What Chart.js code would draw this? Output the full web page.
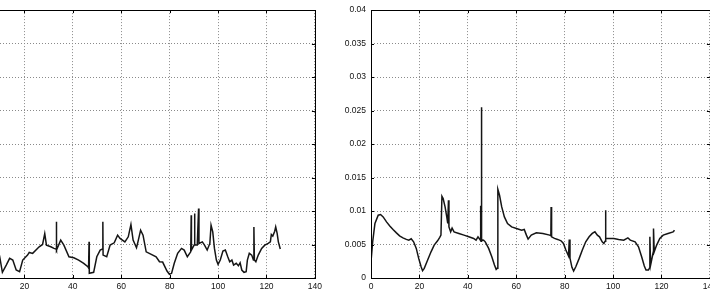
<!DOCTYPE html>
<html>
<head>
<meta charset="utf-8">
<script src="https://cdn.jsdelivr.net/npm/chart.js@4.4.1/dist/chart.umd.min.js"></script>
<style>
  html, body { margin: 0; padding: 0; background: #fff; overflow: hidden; }
  body { width: 710px; height: 295px; position: relative; }
  canvas { position: absolute; top: 0; }
  #left { left: -74px; }
  #right { left: 321px; }
</style>
</head>
<body>
<canvas id="left" width="400" height="295"></canvas>
<canvas id="right" width="400" height="295"></canvas>
<script>
// tick values shared by both panels
var xTicks = [0, 20, 40, 60, 80, 100, 120, 140];
var yTicks = [0, 0.005, 0.01, 0.015, 0.02, 0.025, 0.03, 0.035, 0.04];

// left panel (its y labels are cut off in the picture)
var leftX = [9.4, 9.8, 10.9, 12.5, 13.9, 15.2, 16.6, 18.0, 19.3, 21.3, 22.0, 23.4, 26.1, 27.5, 28.4, 29.1,
    30.9, 32.2, 33.1, 33.2, 33.3, 35.0, 36.3, 38.4, 40.4, 42.4, 44.5, 46.2, 46.5, 46.7, 46.8, 48.6,
    49.9, 51.3, 52.2, 52.4, 52.5, 54.0, 55.4, 57.1, 58.5, 59.5, 61.5, 62.9, 64.0, 64.9, 66.3, 66.9,
    68.0, 69.0, 70.3, 72.4, 74.4, 75.8, 77.1, 78.9, 79.9, 80.8, 81.9, 83.3, 84.9, 86.0, 87.3, 88.7,
    88.9, 89.0, 90.1, 90.3, 90.4, 91.4, 91.95, 92.1, 93.5, 94.4, 95.5, 96.6, 97.1, 97.8, 98.5, 99.3,
    100.0, 100.9, 102.0, 103.0, 104.0, 104.8, 105.7, 106.4, 107.5, 108.4, 109.1, 109.8, 110.7, 111.6,
    112.1, 112.9, 113.9, 114.6, 114.8, 115.0, 115.6, 116.6, 118.0, 119.3, 120.7, 121.6, 122.0, 122.6,
    123.4, 123.8, 124.4, 124.9, 125.7];
var leftY = [0.00387, 0.00317, 0.00085, 0.00193, 0.00293, 0.00268, 0.00119, 0.00094, 0.00268, 0.00342, 0.00382, 0.00368, 0.00466, 0.00501, 0.00662, 0.00491,
    0.00466, 0.00442, 0.00432, 0.00838, 0.00417, 0.00565, 0.00491, 0.00317, 0.00302, 0.00268, 0.00219, 0.00168, 0.00149, 0.0054, 0.0007, 0.00085,
    0.00317, 0.00417, 0.00432, 0.00838, 0.00342, 0.00317, 0.00491, 0.00525, 0.0064, 0.00591, 0.0054, 0.00615, 0.00799, 0.00565, 0.00451, 0.0054,
    0.00714, 0.0064, 0.00391, 0.00353, 0.00317, 0.00243, 0.00238, 0.00104, 0.00055, 0.0007, 0.00219, 0.00368, 0.00442, 0.00417, 0.00317, 0.00391,
    0.00938, 0.00417, 0.00491, 0.00963, 0.00491, 0.00491, 0.01037, 0.00516, 0.0054, 0.00491, 0.00417, 0.00516, 0.00789, 0.00689, 0.00442, 0.00268,
    0.00204, 0.00268, 0.00402, 0.00417, 0.00317, 0.00243, 0.00268, 0.00193, 0.00219, 0.00183, 0.00228, 0.00119, 0.00085, 0.00094,
    0.00268, 0.00368, 0.00342, 0.00268, 0.00763, 0.00268, 0.00243, 0.00342, 0.00442, 0.00491, 0.00516, 0.0054, 0.0065, 0.00625,
    0.00699, 0.00763, 0.00665, 0.0054, 0.00432];

// right panel
var rightX = [0, 0.69, 1.63, 2.98, 3.96, 5.02, 6.41, 7.76, 9.10, 10.5, 11.8, 13.2, 14.6, 15.6, 16.6, 17.6,
    18.7, 19.7, 20.7, 21.3, 22.0, 23.4, 24.8, 26.1, 27.5, 28.4, 28.9, 29.3, 29.8, 30.6, 31.3, 31.7,
    32.0, 32.2, 32.9, 33.5, 34.3, 36.3, 38.4, 40.4, 42.4, 43.4, 44.2, 45.2, 45.3, 45.45, 45.6, 45.75,
    46.5, 47.2, 48.6, 49.9, 51.0, 51.7, 52.1, 52.4, 53.1, 54.0, 55.1, 56.4, 58.1, 60.1, 62.2, 63.3,
    64.2, 64.9, 66.2, 68.3, 71.0, 73.8, 74.3, 74.4, 74.6, 75.8, 77.1, 78.5, 79.5, 80.5, 81.6, 81.9,
    82.2, 83.0, 83.7, 84.6, 86.0, 87.3, 88.7, 90.1, 91.4, 92.5, 93.5, 94.4, 95.5, 96.2, 96.7, 96.9,
    97.0, 98.2, 100.3, 102.3, 104.4, 106.1, 107.1, 109.1, 110.5, 111.8, 112.9, 113.6, 114.6, 115.0,
    115.2, 115.5, 116.2, 116.6, 116.7, 117.0, 118.0, 119.3, 120.7, 122.7, 124.8, 125.4];
var rightY = [0.00243, 0.0054, 0.00814, 0.00938, 0.00948, 0.00912, 0.00838, 0.00778, 0.00725, 0.00674, 0.00629, 0.006, 0.00576, 0.00565, 0.00585, 0.0054,
    0.00442, 0.00293, 0.00168, 0.00109, 0.00144, 0.00268, 0.00391, 0.00491, 0.00555, 0.00606, 0.0064, 0.0122, 0.01186, 0.01061, 0.00912, 0.00814,
    0.01161, 0.00763, 0.00689, 0.00744, 0.00689, 0.00665, 0.0064, 0.00615, 0.00591, 0.00565, 0.00615, 0.00565, 0.0108, 0.0055, 0.0255, 0.0057,
    0.00565, 0.0054, 0.00442, 0.00317, 0.00193, 0.00129, 0.00144, 0.01324, 0.01235, 0.01061, 0.00912, 0.00814, 0.00763, 0.0074, 0.00714, 0.00725,
    0.0064, 0.0058, 0.0064, 0.00674, 0.00665, 0.0064, 0.0063, 0.01061, 0.00615, 0.00591, 0.00576, 0.00555, 0.00516, 0.00417, 0.00327, 0.00576,
    0.00298, 0.00159, 0.00104, 0.00168, 0.00293, 0.00417, 0.0054, 0.00615, 0.00665, 0.00689, 0.0064, 0.00615, 0.0054, 0.00516, 0.0055, 0.01012,
    0.00591, 0.00591, 0.00591, 0.00576, 0.00565, 0.006, 0.00565, 0.0054, 0.00466, 0.00317, 0.00179, 0.00119, 0.00119, 0.00144,
    0.00615, 0.00193, 0.00317, 0.00387, 0.0074, 0.00391, 0.00491, 0.00591, 0.0064, 0.00665, 0.00689, 0.00714];

var boxPlugin = {
    id: 'box',
    afterDraw: function(chart) {
        var ctx = chart.ctx, a = chart.chartArea;
        var sx = chart.scales.x, sy = chart.scales.y;
        ctx.save();
        ctx.strokeStyle = '#000';
        ctx.lineWidth = 1;
        ctx.strokeRect(Math.round(a.left) + 0.5, Math.round(a.top) + 0.5,
            Math.round(a.right - a.left), Math.round(a.bottom - a.top));
        ctx.beginPath();
        xTicks.forEach(function(v) {
            var p = Math.round(sx.getPixelForValue(v)) + 0.5;
            ctx.moveTo(p, a.bottom); ctx.lineTo(p, a.bottom - 3);
            ctx.moveTo(p, a.top); ctx.lineTo(p, a.top + 3);
        });
        yTicks.forEach(function(v) {
            var p = Math.round(sy.getPixelForValue(v)) + 0.5;
            ctx.moveTo(a.left, p); ctx.lineTo(a.left + 3, p);
            ctx.moveTo(a.right, p); ctx.lineTo(a.right - 3, p);
        });
        ctx.stroke();
        ctx.restore();
    }
};

function makeChart(id, xs, ys) {
    var points = xs.map(function(x, i) { return { x: x, y: ys[i] }; });
    return new Chart(document.getElementById(id), {
        type: 'line',
        data: {
            datasets: [{
                data: points,
                borderColor: '#151515',
                borderWidth: 1.5,
                pointRadius: 0,
                tension: 0
            }]
        },
        options: {
            responsive: false,
            animation: false,
            events: [],
            layout: { padding: { top: 9, right: 7, left: 0, bottom: 0 } },
            plugins: { legend: { display: false }, tooltip: { enabled: false } },
            scales: {
                x: {
                    type: 'linear',
                    min: 0,
                    max: 140,
                    afterBuildTicks: function(s) { s.ticks = xTicks.map(function(v) { return { value: v }; }); },
                    afterFit: function(s) { s.height = 17; },
                    grid: { color: '#8a8a8a', lineWidth: 1, drawTicks: false },
                    border: { display: false, dash: [1, 2] },
                    ticks: { padding: 4, color: '#111', maxRotation: 0, font: { family: 'Liberation Sans, Arial', size: 8.5 } }
                },
                y: {
                    type: 'linear',
                    min: 0,
                    max: 0.04,
                    afterBuildTicks: function(s) { s.ticks = yTicks.map(function(v) { return { value: v }; }); },
                    afterFit: function(s) { s.width = 50; },
                    grid: { color: '#8a8a8a', lineWidth: 1, drawTicks: false },
                    border: { display: false, dash: [1, 2] },
                    ticks: {
                        padding: 5, color: '#111',
                        font: { family: 'Liberation Sans, Arial', size: 8.5 },
                        callback: function(v) { return String(+v.toFixed(3)); }
                    }
                }
            }
        },
        plugins: [boxPlugin]
    });
}

makeChart('left', leftX, leftY);
makeChart('right', rightX, rightY);
</script>
</body>
</html>
